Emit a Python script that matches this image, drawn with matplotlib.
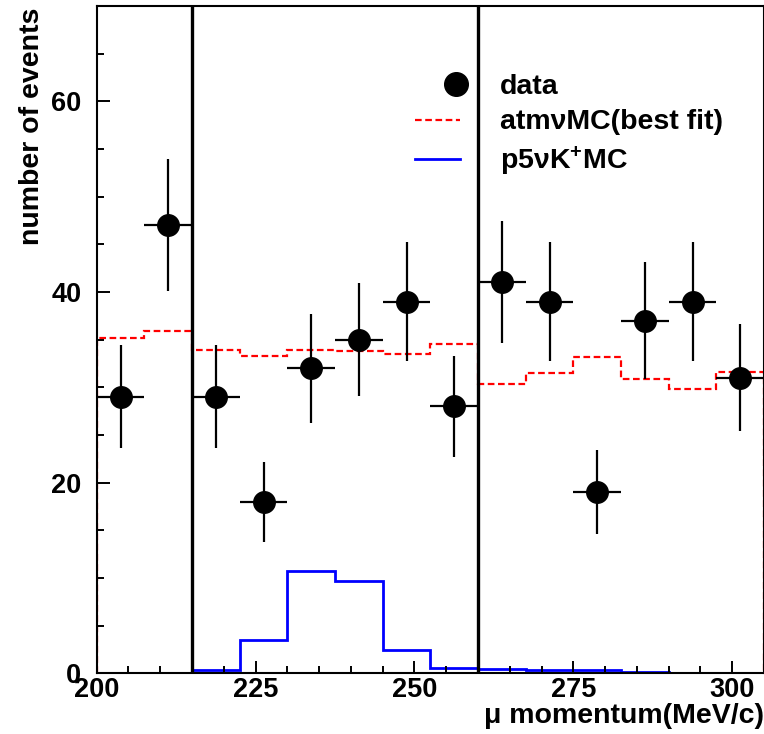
import matplotlib
matplotlib.use("Agg")
import matplotlib.pyplot as plt
from matplotlib.lines import Line2D
from matplotlib.legend_handler import HandlerLine2D
from matplotlib.ticker import MultipleLocator

plt.rcParams["font.family"] = ["Liberation Sans", "DejaVu Sans"]
plt.rcParams["font.weight"] = "bold"
plt.rcParams["mathtext.fontset"] = "custom"
plt.rcParams["mathtext.rm"] = "Liberation Sans:bold"
plt.rcParams["mathtext.bf"] = "Liberation Sans:bold"
plt.rcParams["mathtext.default"] = "bf"

# bins of muon momentum (MeV/c)
bin_edges = [200.0, 207.5, 215.0, 222.5, 230.0, 237.5, 245.0, 252.5,
             260.0, 267.5, 275.0, 282.5, 290.0, 297.5, 305.0]
data_counts = [29, 47, 29, 18, 32, 35, 39, 28, 41, 39, 19, 37, 39, 31]
data_errors = [5.4, 6.9, 5.4, 4.2, 5.7, 5.9, 6.2, 5.3, 6.4, 6.2, 4.4, 6.1, 6.2, 5.6]
atm_mc = [35.2, 35.9, 33.9, 33.3, 33.9, 33.8, 33.5, 34.5,
          30.4, 31.5, 33.2, 30.9, 29.8, 31.6]
pnuk_mc = [0, 0, 0.35, 3.5, 10.7, 9.65, 2.45, 0.6,
           0.45, 0.3, 0.3, 0.1, 0.05, 0.05]
cut_lines = [215, 260]

centers = [(a + b) / 2 for a, b in zip(bin_edges[:-1], bin_edges[1:])]
half_widths = [(b - a) / 2 for a, b in zip(bin_edges[:-1], bin_edges[1:])]


class MarkerAtEnd(HandlerLine2D):
    # single legend marker sits near the right end of the handle, like ROOT
    def get_xdata(self, legend, xdescent, ydescent, width, height, fontsize):
        end = -xdescent + width
        return [end - 0.25 * fontsize, end], [end - 0.125 * fontsize]


fig = plt.figure(figsize=(7.64, 7.34), dpi=100)
ax = fig.add_axes([0.1266, 0.0827, 0.8734, 0.9091])

ax.stairs(atm_mc, bin_edges, color="red", lw=1.6, linestyle=(0, (3, 1.6)))
ax.stairs(pnuk_mc, bin_edges, color="blue", lw=2.0)
ax.errorbar(centers, data_counts, xerr=half_widths, yerr=data_errors,
            fmt="o", color="black", ms=15.5, elinewidth=1.6, capsize=0)
for x in cut_lines:
    ax.axvline(x, color="black", lw=2.4)

ax.set_xlim(200, 305)
ax.set_ylim(0, 70)
ax.xaxis.set_major_locator(MultipleLocator(25))
ax.xaxis.set_minor_locator(MultipleLocator(5))
ax.yaxis.set_major_locator(MultipleLocator(20))
ax.yaxis.set_minor_locator(MultipleLocator(5))
ax.tick_params(which="both", direction="in", top=False, right=False, width=1.4)
ax.tick_params(which="major", length=9, labelsize=19.5)
ax.tick_params(axis="x", which="major", pad=3)
ax.tick_params(axis="y", which="major", pad=11)
ax.tick_params(which="minor", length=5)
for sp in ax.spines.values():
    sp.set_linewidth(1.5)

ax.set_xlabel("μ momentum(MeV/c)", fontsize=20.5, fontweight="bold", ha="right")
ax.xaxis.set_label_coords(1.0, -0.045)
ax.set_ylabel("number of events", fontsize=20.5, fontweight="bold", ha="right")
ax.yaxis.set_label_coords(-0.078, 0.997)

handles = [
    Line2D([], [], color="black", marker="o", ms=17, linestyle="none"),
    Line2D([], [], color="red", lw=1.6, linestyle=(0, (3, 1.6))),
    Line2D([], [], color="blue", lw=2.0),
]
labels = ["data", "atmνMC(best fit)", "p5νK$^{+}$MC"]
ax.legend(handles, labels, loc="upper left", bbox_to_anchor=(0.477, 0.898),
          frameon=False, fontsize=20.5, handlelength=1.58, handletextpad=1.4,
          labelspacing=0.33, borderpad=0, borderaxespad=0,
          handler_map={handles[0]: MarkerAtEnd(numpoints=1)})

fig.savefig("out.png", dpi=100)
